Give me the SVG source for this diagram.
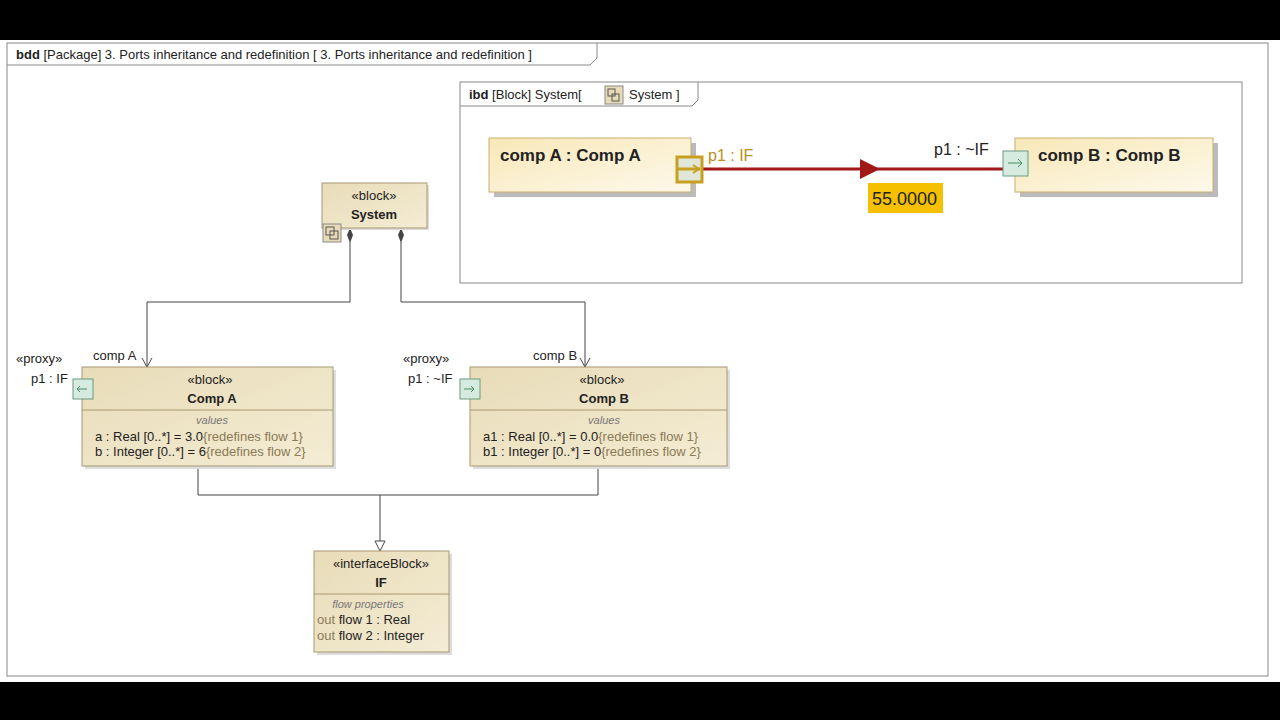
<svg xmlns="http://www.w3.org/2000/svg" width="1280" height="720" viewBox="0 0 1280 720">
<defs>
<linearGradient id="blk" x1="0" y1="0" x2="1" y2="1"><stop offset="0" stop-color="#e8dcb8"/><stop offset="1" stop-color="#f4ecd4"/></linearGradient>
<linearGradient id="prt" x1="0" y1="0" x2="1" y2="1"><stop offset="0" stop-color="#f8e8b8"/><stop offset="1" stop-color="#fdf8ea"/></linearGradient>
</defs>
<style>
text{font-family:"Liberation Sans",Arial,sans-serif;fill:#222}
.s{font-size:13px}.b{font-weight:bold}.g{fill:#8a7a55}.i{font-style:italic;fill:#777;font-size:11px}
.blk{fill:url(#blk);stroke:#a89870;stroke-width:1}
.ln{fill:none;stroke:#444;stroke-width:1}
.dia{fill:#444}
.port{fill:#d6ebdf;stroke:#6a9a80}
</style>
<rect width="1280" height="720" fill="#fff"/>
<rect x="0" y="0" width="1280" height="40" fill="#000"/>
<rect x="0" y="682" width="1280" height="38" fill="#000"/>
<rect x="7" y="43" width="1261" height="633" fill="#fff" stroke="#888"/>
<path d="M7,65 H590 L597,58 V43" fill="none" stroke="#888"/>
<text x="16" y="59" class="s"><tspan class="b">bdd</tspan> [Package] 3. Ports inheritance and redefinition [ 3. Ports inheritance and redefinition ]</text>

<g id="connectors">
<path class="ln" d="M350,242 V302 H147 V367"/>
<path class="ln" d="M401,242 V302 H585 V367"/>
<path class="dia" d="M350,228 L353,235 L350,243 L347,235Z"/>
<path class="dia" d="M401,228 L404,235 L401,243 L398,235Z"/>
<path class="ln" d="M142,358 L147,367 L152,358"/>
<path class="ln" d="M580,358 L585,367 L590,358"/>
<path class="ln" d="M198,466 V495 H598 V466 M380,495 V541"/>
<path d="M375,541 L385,541 L380,551Z" fill="#fff" stroke="#444"/>
<text x="93" y="360" class="s" fill="#444">comp A</text>
<text x="533" y="360" class="s" fill="#444">comp B</text>
</g>

<g id="system">
<rect x="324" y="185" width="105" height="45" fill="#ddd"/>
<rect x="322" y="183" width="105" height="45" class="blk"/>
<text x="374" y="200" class="s" text-anchor="middle" fill="#444">«block»</text>
<text x="374" y="219" class="s b" text-anchor="middle">System</text>
<rect x="323" y="224" width="18" height="18" fill="#e8dcb8" stroke="#888"/>
<rect x="326" y="227" width="8" height="8" fill="none" stroke="#555"/><rect x="330" y="231" width="8" height="8" fill="none" stroke="#555"/>
</g>

<g id="compA">
<rect x="85" y="370" width="251" height="99" fill="#ddd"/>
<rect x="82" y="367" width="251" height="99" class="blk"/>
<line x1="82" y1="410" x2="333" y2="410" stroke="#a89870"/>
<text x="210" y="384" class="s" text-anchor="middle" fill="#444">«block»</text>
<text x="212" y="403" class="s b" text-anchor="middle">Comp A</text>
<text x="212" y="424" class="i" text-anchor="middle">values</text>
<text x="95" y="441" class="s" fill="#444">a : Real [0..*] = 3.0<tspan class="g">{redefines flow 1}</tspan></text>
<text x="95" y="456" class="s" fill="#444">b : Integer [0..*] = 6<tspan class="g">{redefines flow 2}</tspan></text>
<rect x="73" y="379" width="20" height="20" class="port"/>
<path d="M87,389 H77 M80,386 L77,389 L80,392" fill="none" stroke="#4a8a60"/>
<text x="16" y="363" class="s" fill="#444">«proxy»</text>
<text x="31" y="383" class="s" fill="#444">p1 : IF</text>
</g>

<g id="compB">
<rect x="473" y="370" width="257" height="99" fill="#ddd"/>
<rect x="470" y="367" width="257" height="99" class="blk"/>
<line x1="470" y1="410" x2="727" y2="410" stroke="#a89870"/>
<text x="602" y="384" class="s" text-anchor="middle" fill="#444">«block»</text>
<text x="604" y="403" class="s b" text-anchor="middle">Comp B</text>
<text x="604" y="424" class="i" text-anchor="middle">values</text>
<text x="483" y="441" class="s" fill="#444">a1 : Real [0..*] = 0.0<tspan class="g">{redefines flow 1}</tspan></text>
<text x="483" y="456" class="s" fill="#444">b1 : Integer [0..*] = 0<tspan class="g">{redefines flow 2}</tspan></text>
<rect x="460" y="379" width="20" height="20" class="port"/>
<path d="M464,389 H474 M471,386 L474,389 L471,392" fill="none" stroke="#4a8a60"/>
<text x="403" y="363" class="s" fill="#444">«proxy»</text>
<text x="408" y="383" class="s" fill="#444">p1 : ~IF</text>
</g>

<g id="IF">
<rect x="317" y="554" width="135" height="101" fill="#ddd"/>
<rect x="314" y="551" width="135" height="101" class="blk"/>
<line x1="314" y1="594" x2="449" y2="594" stroke="#a89870"/>
<text x="381" y="568" class="s" text-anchor="middle" fill="#444">«interfaceBlock»</text>
<text x="381" y="587" class="s b" text-anchor="middle">IF</text>
<text x="368" y="608" class="i" text-anchor="middle">flow properties</text>
<text x="317" y="624" class="s" fill="#444"><tspan class="g">out</tspan> flow 1 : Real</text>
<text x="317" y="640" class="s" fill="#444"><tspan class="g">out</tspan> flow 2 : Integer</text>
</g>

<g id="ibd">
<rect x="460" y="82" width="782" height="201" fill="#fff" stroke="#888"/>
<path d="M460,106 H692 L698,100 V82" fill="none" stroke="#888"/>
<text x="469" y="99" class="s"><tspan class="b">ibd</tspan> [Block] System[</text>
<rect x="605" y="86" width="18" height="18" fill="#e8dcb8" stroke="#888"/>
<rect x="608" y="89" width="7" height="7" fill="none" stroke="#555"/><rect x="612" y="94" width="7" height="7" fill="none" stroke="#555"/>
<text x="629" y="99" class="s">System ]</text>
</g>

<g id="partA">
<rect x="494" y="143" width="202" height="54" fill="#bbb"/>
<rect x="489" y="138" width="202" height="54" fill="url(#prt)" stroke="#c8b070"/>
<text x="500" y="161" font-size="17" class="b">comp A : Comp A</text>
</g>
<g id="partB">
<rect x="1020" y="143" width="198" height="54" fill="#bbb"/>
<rect x="1015" y="138" width="198" height="54" fill="url(#prt)" stroke="#c8b070"/>
<text x="1038" y="161" font-size="17" class="b">comp B : Comp B</text>
</g>
<g id="ibdconn">
<line x1="702" y1="169" x2="1004" y2="169" stroke="#a01818" stroke-width="3"/>
<path d="M860,159 L880,169 L860,179Z" fill="#a01818"/>
<rect x="868" y="183" width="75" height="30" fill="#f5c000"/>
<text x="872" y="205" font-size="18" fill="#333">55.0000</text>
</g>
<g id="portA">
<rect x="677" y="157" width="25" height="25" fill="#e0e6d8" stroke="#c8a020" stroke-width="3"/>
<line x1="677" y1="169" x2="700" y2="169" stroke="#c8a020" stroke-width="3"/>
<path d="M693,165 L699,169 L693,173" fill="none" stroke="#c8a020" stroke-width="2"/>
<text x="708" y="161" font-size="16" style="fill:#b89020">p1 : IF</text>
</g>
<g id="portB">
<rect x="1003" y="151" width="25" height="25" class="port"/>
<path d="M1008,163 H1022 M1018,159 L1022,163 L1018,167" fill="none" stroke="#4a8a60"/>
<text x="934" y="155" font-size="16">p1 : ~IF</text>
</g>
</svg>
